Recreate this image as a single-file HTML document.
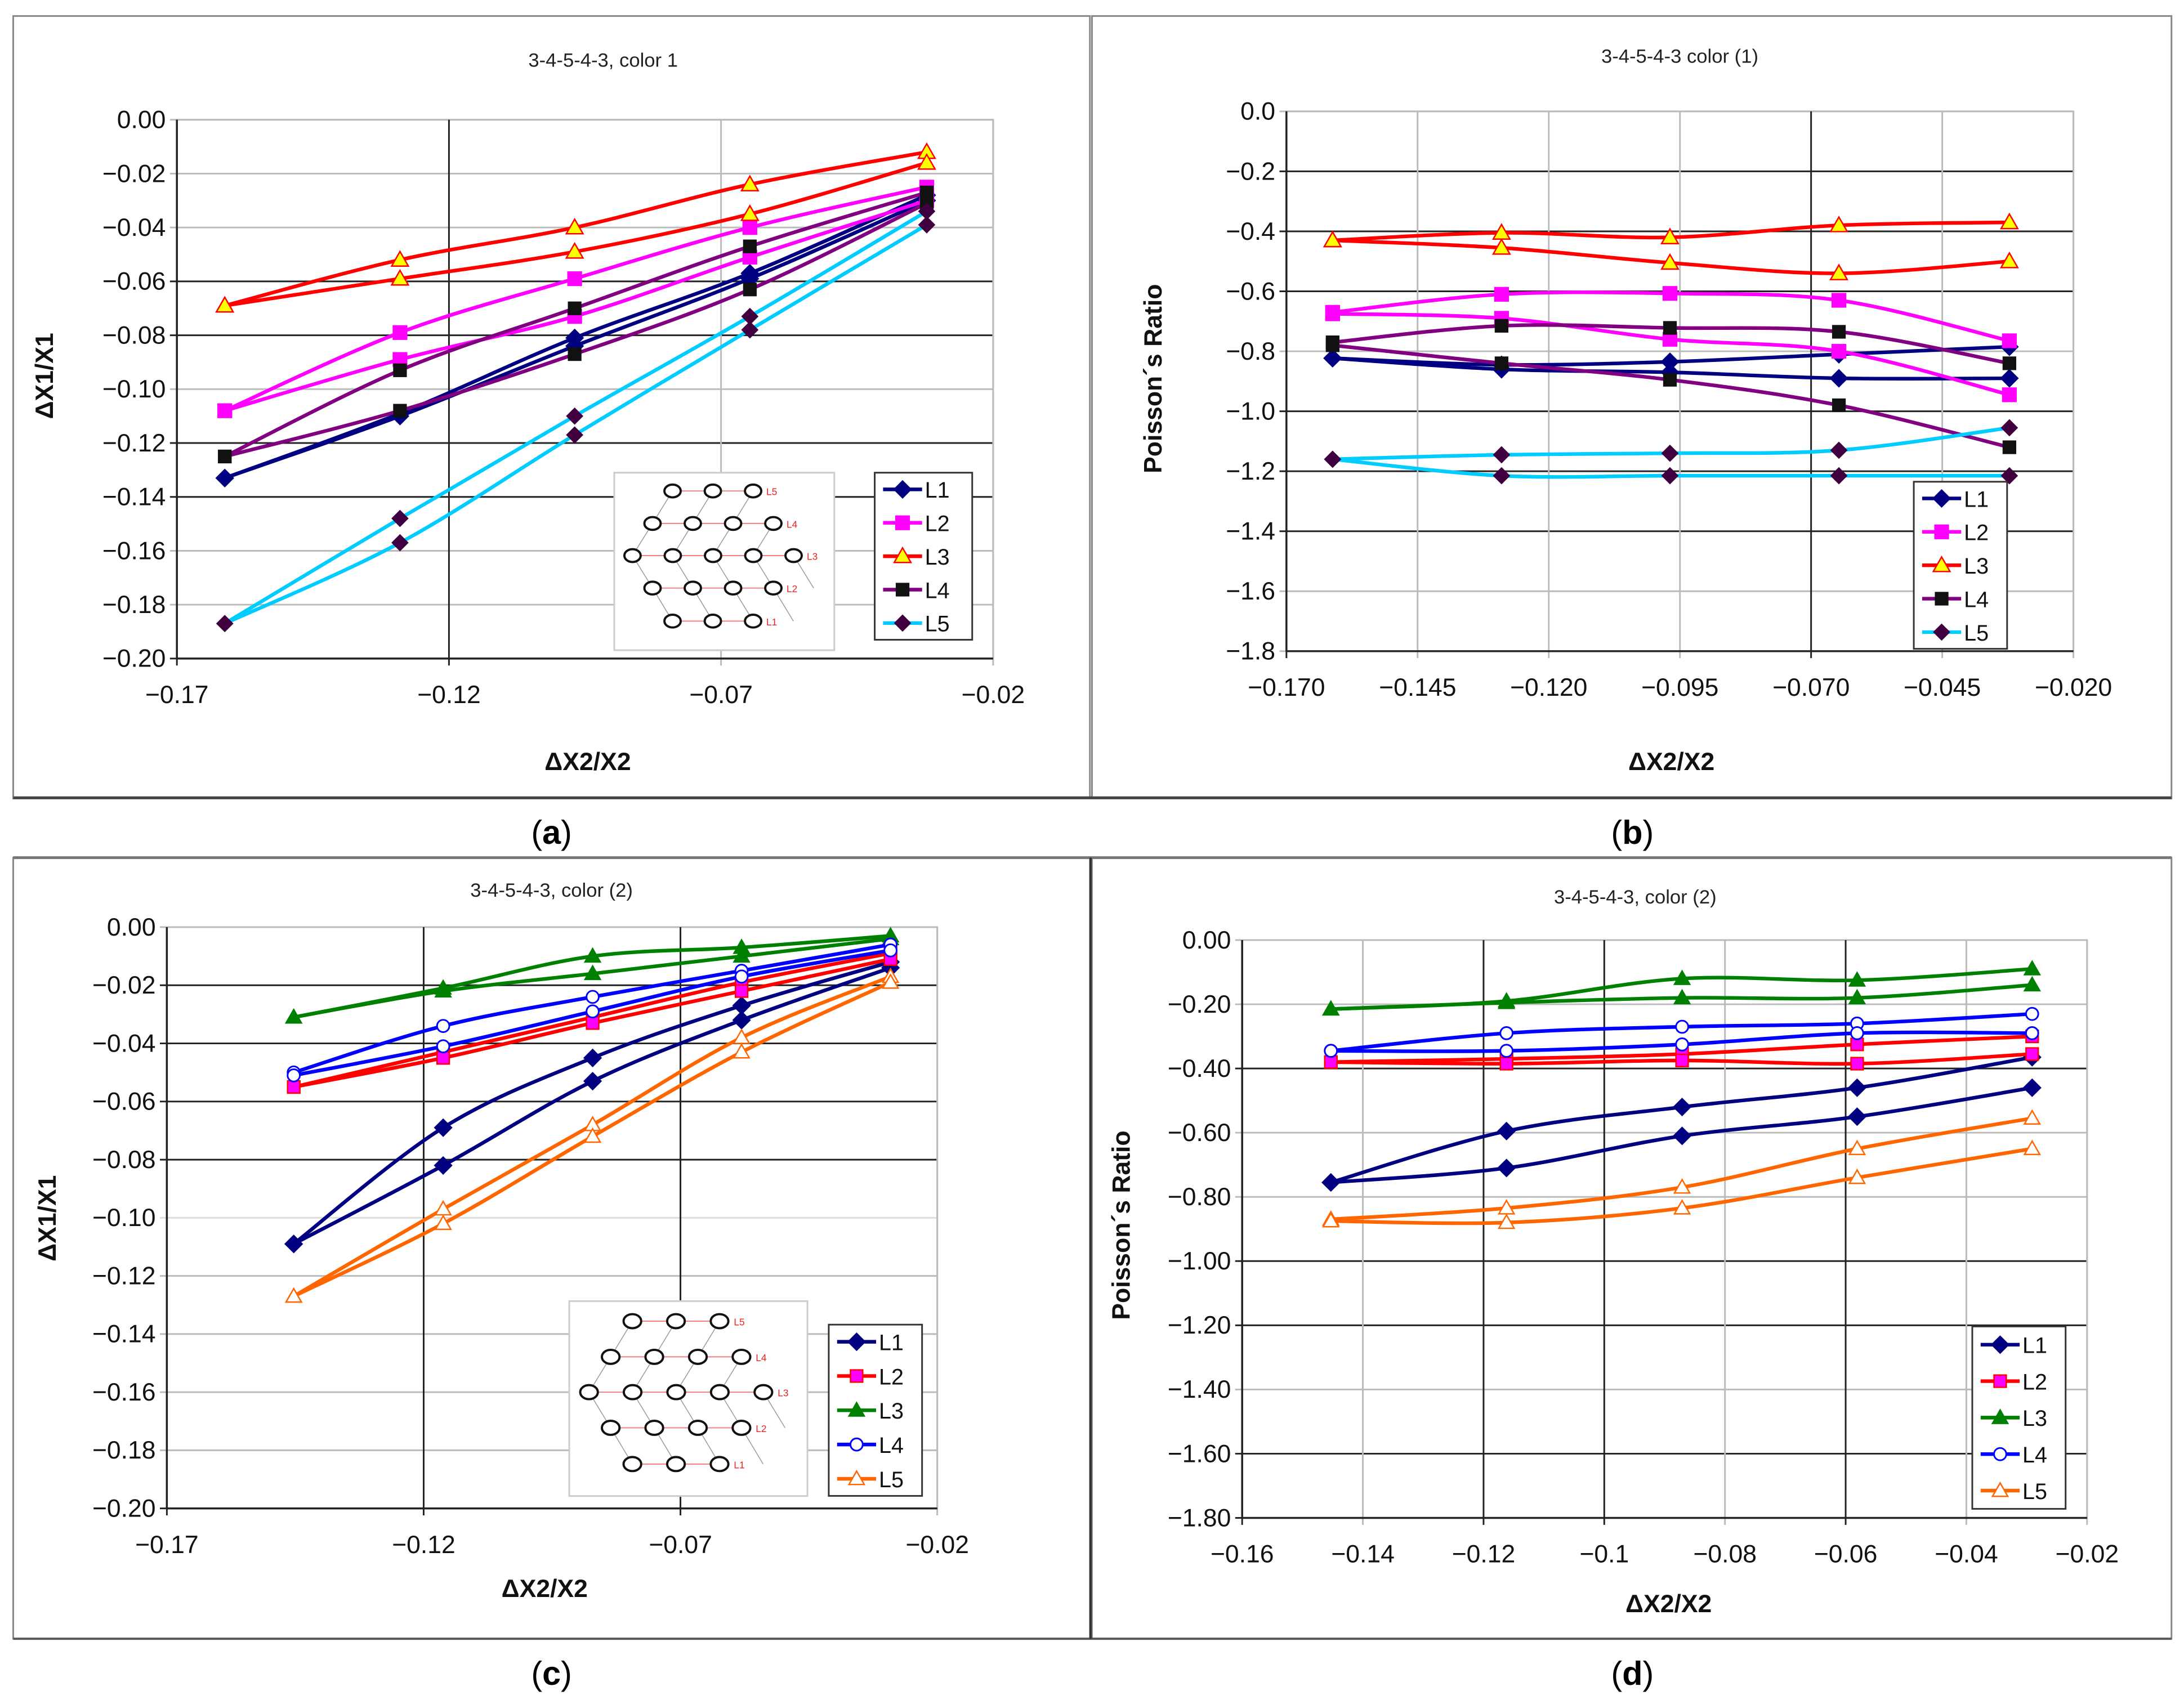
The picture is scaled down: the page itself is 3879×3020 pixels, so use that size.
<!DOCTYPE html>
<html><head><meta charset="utf-8"><style>
html,body{margin:0;padding:0;background:#fff;}
svg{display:block;}
text{font-family:"Liberation Sans",sans-serif;}
</style></head><body>
<svg id="fig" xmlns="http://www.w3.org/2000/svg" width="3879" height="3020" viewBox="0 0 1568 1221" preserveAspectRatio="none">
<rect x="0" y="0" width="1568" height="1221" fill="#fff"/>
<g id="frames">
<rect x="9.5" y="11.5" width="773" height="562" fill="none" stroke="#888" stroke-width="1.2"/>
<rect x="784" y="11.5" width="775" height="562" fill="none" stroke="#888" stroke-width="1.2"/>
<line x1="9.5" y1="573" x2="1559" y2="573" stroke="#444" stroke-width="2"/>
<rect x="9.5" y="616" width="773" height="561" fill="none" stroke="#888" stroke-width="1.2"/>
<rect x="784" y="616" width="775" height="561" fill="none" stroke="#888" stroke-width="1.2"/>
<line x1="9.5" y1="616" x2="1559" y2="616" stroke="#777" stroke-width="2"/>
<line x1="9.5" y1="1177" x2="1559" y2="1177" stroke="#555" stroke-width="1.6"/>
<line x1="783" y1="616" x2="783" y2="1177" stroke="#333" stroke-width="1.6"/>
</g>
<g font-family="Liberation Serif, serif" font-size="24" text-anchor="middle">
<text x="396" y="606">(<tspan font-weight="bold">a</tspan>)</text>
<text x="1172" y="606">(<tspan font-weight="bold">b</tspan>)</text>
<text x="396" y="1210">(<tspan font-weight="bold">c</tspan>)</text>
<text x="1172" y="1210">(<tspan font-weight="bold">d</tspan>)</text>
</g>
</svg>
<script>
// ---------- data: chart (a) ----------
const aX = [-0.1612, -0.129, -0.0969, -0.0647, -0.0322];
const aL1Up = [-0.133, -0.109, -0.081, -0.057, -0.028];
const aL1Dn = [-0.133, -0.110, -0.084, -0.059, -0.030];
const aL2Up = [-0.108, -0.079, -0.059, -0.040, -0.025];
const aL2Dn = [-0.108, -0.089, -0.073, -0.051, -0.030];
const aL3Up = [-0.069, -0.052, -0.040, -0.024, -0.012];
const aL3Dn = [-0.069, -0.059, -0.049, -0.035, -0.016];
const aL4Up = [-0.125, -0.093, -0.070, -0.047, -0.027];
const aL4Dn = [-0.125, -0.108, -0.087, -0.063, -0.031];
const aL5Up = [-0.187, -0.148, -0.110, -0.073, -0.034];
const aL5Dn = [-0.187, -0.157, -0.117, -0.078, -0.039];
const aYTicks = [0, -0.02, -0.04, -0.06, -0.08, -0.10, -0.12, -0.14, -0.16, -0.18, -0.20];
const aXTicks = [-0.17, -0.12, -0.07, -0.02];
// ---------- data: chart (b) ----------
const bX = [-0.1612, -0.129, -0.0969, -0.0647, -0.0322];
const bL1Up = [-0.823, -0.845, -0.835, -0.810, -0.785];
const bL1Dn = [-0.823, -0.860, -0.870, -0.890, -0.890];
const bL2Up = [-0.670, -0.610, -0.607, -0.630, -0.765];
const bL2Dn = [-0.675, -0.690, -0.760, -0.800, -0.945];
const bL3Up = [-0.430, -0.405, -0.420, -0.380, -0.370];
const bL3Dn = [-0.430, -0.455, -0.505, -0.540, -0.500];
const bL4Up = [-0.770, -0.715, -0.722, -0.735, -0.840];
const bL4Dn = [-0.780, -0.840, -0.895, -0.980, -1.120];
const bL5Up = [-1.160, -1.145, -1.140, -1.130, -1.055];
const bL5Dn = [-1.160, -1.215, -1.215, -1.215, -1.215];
const bYTicks = [0, -0.2, -0.4, -0.6, -0.8, -1.0, -1.2, -1.4, -1.6, -1.8];
const bXTicks = [-0.170, -0.145, -0.120, -0.095, -0.070, -0.045, -0.020];
// ---------- data: chart (c) ----------
const cX = [-0.1453, -0.1162, -0.0871, -0.0581, -0.0291];
const cL1Up = [-0.109, -0.069, -0.045, -0.027, -0.012];
const cL1Dn = [-0.109, -0.082, -0.053, -0.032, -0.014];
const cL2Up = [-0.055, -0.043, -0.031, -0.019, -0.009];
const cL2Dn = [-0.055, -0.045, -0.033, -0.022, -0.011];
const cL3Up = [-0.031, -0.021, -0.010, -0.007, -0.003];
const cL3Dn = [-0.031, -0.022, -0.016, -0.010, -0.004];
const cL4Up = [-0.050, -0.034, -0.024, -0.015, -0.006];
const cL4Dn = [-0.051, -0.041, -0.029, -0.017, -0.008];
const cL5Up = [-0.127, -0.097, -0.068, -0.038, -0.017];
const cL5Dn = [-0.127, -0.102, -0.072, -0.043, -0.019];
const cYTicks = [0, -0.02, -0.04, -0.06, -0.08, -0.10, -0.12, -0.14, -0.16, -0.18, -0.20];
const cXTicks = [-0.17, -0.12, -0.07, -0.02];
// ---------- data: chart (d) ----------
const dX = [-0.1453, -0.1162, -0.0871, -0.0581, -0.0291];
const dL1Up = [-0.755, -0.595, -0.520, -0.460, -0.365];
const dL1Dn = [-0.755, -0.710, -0.610, -0.550, -0.460];
const dL2Up = [-0.380, -0.370, -0.355, -0.325, -0.300];
const dL2Dn = [-0.380, -0.385, -0.375, -0.385, -0.355];
const dL3Up = [-0.215, -0.190, -0.120, -0.125, -0.090];
const dL3Dn = [-0.215, -0.195, -0.180, -0.180, -0.140];
const dL4Up = [-0.345, -0.290, -0.270, -0.260, -0.230];
const dL4Dn = [-0.345, -0.345, -0.325, -0.290, -0.290];
const dL5Up = [-0.870, -0.835, -0.770, -0.650, -0.555];
const dL5Dn = [-0.875, -0.880, -0.835, -0.740, -0.650];
const dYTicks = [0, -0.2, -0.4, -0.6, -0.8, -1.0, -1.2, -1.4, -1.6, -1.8];
const dXTicks = [-0.16, -0.14, -0.12, -0.10, -0.08, -0.06, -0.04, -0.02];
const dXLabels = ["\u22120.16","\u22120.14","\u22120.12","\u22120.1","\u22120.08","\u22120.06","\u22120.04","\u22120.02"];
const seriesNames = ["L1", "L2", "L3", "L4", "L5"];

const NS = "http://www.w3.org/2000/svg";
const fig = document.getElementById("fig");
function mk(tag, attrs, parent) {
  const e = document.createElementNS(NS, tag);
  for (const k in attrs) e.setAttribute(k, attrs[k]);
  (parent || fig).appendChild(e);
  return e;
}
function fmt(v, d) { const s = Math.abs(v).toFixed(d); return (v < 0 ? "\u2212" : "") + s; }
function smooth(pts) {
  let d = "M" + pts[0][0] + "," + pts[0][1];
  for (let i = 0; i < pts.length - 1; i++) {
    const p0 = pts[i - 1] || pts[i], p1 = pts[i], p2 = pts[i + 1], p3 = pts[i + 2] || p2;
    const c1 = [p1[0] + (p2[0] - p0[0]) / 6, p1[1] + (p2[1] - p0[1]) / 6];
    const c2 = [p2[0] - (p3[0] - p1[0]) / 6, p2[1] - (p3[1] - p1[1]) / 6];
    d += " C" + c1 + " " + c2 + " " + p2;
  }
  return d;
}
function marker(g, type, x, y, s) {
  let e;
  if (type === "diamond") e = mk("polygon", {points: `${x},${y-s.r} ${x+s.r},${y} ${x},${y+s.r} ${x-s.r},${y}`, fill: s.fill, stroke: s.ms, "stroke-width": 1}, g);
  else if (type === "square") e = mk("rect", {x: x - s.r*0.8, y: y - s.r*0.8, width: s.r*1.6, height: s.r*1.6, fill: s.fill, stroke: s.ms, "stroke-width": 1}, g);
  else if (type === "triangle") e = mk("polygon", {points: `${x},${y-s.r} ${x+s.r},${y+s.r*0.75} ${x-s.r},${y+s.r*0.75}`, fill: s.fill, stroke: s.ms, "stroke-width": 1}, g);
  else e = mk("circle", {cx: x, cy: y, r: s.r*0.8, fill: s.fill, stroke: s.ms, "stroke-width": 1.2}, g);
  
  
}
function chart(c) {
  const g = mk("g", {});
  
  
  const sx = v => c.L + (v - c.xmin) / (c.xmax - c.xmin) * (c.R - c.L);
  const sy = v => c.T + (c.ymax - v) / (c.ymax - c.ymin) * (c.B - c.T);
  // plot border
  mk("rect", {x: c.L, y: c.T, width: c.R - c.L, height: c.B - c.T, fill: "none", stroke: "#bbb", "stroke-width": 1.2}, g);
  c.yTicks.forEach((v, i) => {
    const y = sy(v);
    const gl = mk("line", {x1: c.L - 5, x2: c.R, y1: y, y2: y, stroke: c.hCol[i], "stroke-width": 1.2}, g);
    
    
    const t = mk("text", {x: c.L - 8, y: y + 6, "text-anchor": "end", "font-size": c.fs, fill: "#111"}, g);
    t.textContent = fmt(v, c.yDec);
    
    
  });
  c.xTicks.forEach((v, i) => {
    const x = sx(v);
    const gl = mk("line", {x1: x, x2: x, y1: c.T, y2: c.B + 5, stroke: c.vCol[i], "stroke-width": 1.2}, g);
    
    
    const t = mk("text", {x: x, y: c.B + 32, "text-anchor": "middle", "font-size": c.fs, fill: "#111"}, g);
    t.textContent = c.xLabels ? c.xLabels[i] : fmt(v, c.xDec);
    
    
  });
  mk("line", {x1: c.L, x2: c.L, y1: c.T, y2: c.B, stroke: "#222", "stroke-width": 1.4}, g);
  mk("line", {x1: c.L, x2: c.R, y1: c.B, y2: c.B, stroke: "#222", "stroke-width": 1.4}, g);
  // series
  c.series.forEach((s, k) => {
    const sg = mk("g", {}, g);
    
    
    [s.up, s.dn].forEach(arr => {
      const pts = c.x.map((xv, i) => [sx(xv), sy(arr[i])]);
      const p = mk("path", {d: smooth(pts), fill: "none", stroke: s.color, "stroke-width": 2.6}, sg);
      
      
    });
    [s.up, s.dn].forEach(arr => c.x.forEach((xv, i) => marker(sg, s.m, sx(xv), sy(arr[i]), s)));
  });
  // inset
  if (c.inset) {
    const [ix, iy, iw, ih] = c.inset;
    const ig = mk("g", {}, g);
    
    
    mk("rect", {x: ix, y: iy, width: iw, height: ih, fill: "#fff", stroke: "#ccc", "stroke-width": 1.2}, ig);
    const rows = [[0.265,3],[0.174,4],[0.083,5],[0.174,4],[0.265,3]];
    const ry = [0.103,0.286,0.467,0.65,0.836];
    const lab = ["L5","L4","L3","L2","L1"];
    rows.forEach((r, j) => {
      const y = iy + ry[j]*ih;
      mk("line", {x1: ix + r[0]*iw, x2: ix + (r[0] + 0.183*(r[1]-1))*iw, y1: y, y2: y, stroke: "#f08080", "stroke-width": 0.8}, ig);
      for (let q = 0; q < r[1]; q++) {
        const cx = ix + (r[0] + 0.183*q)*iw;
        if (j < 4) {
          const nr = rows[j+1];
          const dx = j < 2 ? -0.091 : 0.091;
          mk("line", {x1: cx, y1: y, x2: cx + dx*iw, y2: iy + ry[j+1]*ih, stroke: "#999", "stroke-width": 0.6}, ig);
        }
        mk("ellipse", {cx: cx, cy: y, rx: 0.037*iw, ry: 0.036*ih, fill: "#fff", stroke: "#111", "stroke-width": 1.6}, ig);
      }
      const t = mk("text", {x: ix + (r[0] + 0.183*(r[1]-1) + 0.06)*iw, y: y + 3, "font-size": 7, fill: "#e22"}, ig);
      t.textContent = lab[j];
      
      
    });
  }
  // legend
  const [lx, ly, lw, lh] = c.legend;
  const lg = mk("g", {}, g);
  
  
  mk("rect", {x: lx, y: ly, width: lw, height: lh, fill: "#fff", stroke: "#333", "stroke-width": 1.2}, lg);
  c.series.forEach((s, k) => {
    const y = ly + lh * (0.1 + 0.2 * k);
    const eg = mk("g", {}, lg);
    
    
    mk("line", {x1: lx + 6, x2: lx + 34, y1: y, y2: y, stroke: s.color, "stroke-width": 2.6}, eg);
    marker(eg, s.m, lx + 20, y, s);
    const t = mk("text", {x: lx + 36, y: y + 6, "font-size": 16, fill: "#111"}, eg);
    t.textContent = seriesNames[k];
    
    
  });
  // titles
  const tt = mk("text", {x: c.title[1], y: c.title[2], "text-anchor": "middle", "font-size": 14, fill: "#222"}, g);
  tt.textContent = c.title[0];
  
  
  const xt = mk("text", {x: c.xt[0], y: c.xt[1], "text-anchor": "middle", "font-size": 18, "font-weight": "bold", fill: "#111"}, g);
  xt.textContent = "\u0394X2/X2";
  
  
  const yt = mk("text", {x: 0, y: 0, transform: `translate(${c.yt[0]},${c.yt[1]}) rotate(-90)`, "text-anchor": "middle", "font-size": 18, "font-weight": "bold", fill: "#111"}, g);
  yt.textContent = c.ytText;
  
  
}
const K = "#222", G = "#bbb", LG = "#ddd";
const s1 = (a) => [
  {color: "#000080", m: "diamond", fill: "#000080", ms: "#000080", r: 6, up: a[0], dn: a[1]},
  {color: "#FF00FF", m: "square", fill: "#FF00FF", ms: "#FF00FF", r: 6, up: a[2], dn: a[3]},
  {color: "#FF0000", m: "triangle", fill: "#FFFF00", ms: "#FF0000", r: 6, up: a[4], dn: a[5]},
  {color: "#800080", m: "square", fill: "#111", ms: "#111", r: 5.5, up: a[6], dn: a[7]},
  {color: "#00CCFF", m: "diamond", fill: "#400040", ms: "#400040", r: 5.5, up: a[8], dn: a[9]}];
const s2 = (a) => [
  {color: "#000080", m: "diamond", fill: "#000080", ms: "#000080", r: 6, up: a[0], dn: a[1]},
  {color: "#FF0000", m: "square", fill: "#FF00FF", ms: "#FF0000", r: 5.5, up: a[2], dn: a[3]},
  {color: "#008000", m: "triangle", fill: "#008000", ms: "#008000", r: 5.5, up: a[4], dn: a[5]},
  {color: "#0000FF", m: "circle", fill: "#fff", ms: "#0000FF", r: 5.5, up: a[6], dn: a[7]},
  {color: "#FF6600", m: "triangle", fill: "#fff", ms: "#FF6600", r: 5.5, up: a[8], dn: a[9]}];
chart({name: "chart-a", L: 127, R: 713, T: 86, B: 473, xmin: -0.17, xmax: -0.02, ymin: -0.2, ymax: 0,
  x: aX, yTicks: aYTicks, xTicks: aXTicks, yDec: 2, xDec: 2, fs: 18,
  hCol: [G, G, G, K, K, G, K, K, G, G, K], vCol: [K, K, G, G],
  series: s1([aL1Up, aL1Dn, aL2Up, aL2Dn, aL3Up, aL3Dn, aL4Up, aL4Dn, aL5Up, aL5Dn]),
  inset: [441, 339.5, 158, 127.5], legend: [628, 339.5, 70, 120],
  title: ["3-4-5-4-3, color 1", 433, 48], xt: [422, 553], yt: [38, 270], ytText: "\u0394X1/X1"});
chart({name: "chart-b", L: 923.6, R: 1488.6, T: 80, B: 467.7, xmin: -0.17, xmax: -0.02, ymin: -1.8, ymax: 0,
  x: bX, yTicks: bYTicks, xTicks: bXTicks, yDec: 1, xDec: 3, fs: 18,
  hCol: [G, K, K, K, G, K, K, K, G, G], vCol: [K, G, G, G, K, G, G],
  series: s1([bL1Up, bL1Dn, bL2Up, bL2Dn, bL3Up, bL3Dn, bL4Up, bL4Dn, bL5Up, bL5Dn]),
  legend: [1374, 346, 67, 120],
  title: ["3-4-5-4-3 color (1)", 1206, 45], xt: [1200, 553], yt: [834, 272], ytText: "Poisson\u00B4s Ratio"});
chart({name: "chart-c", L: 119.8, R: 672.9, T: 665.9, B: 1083.4, xmin: -0.17, xmax: -0.02, ymin: -0.2, ymax: 0,
  x: cX, yTicks: cYTicks, xTicks: cXTicks, yDec: 2, xDec: 2, fs: 18,
  hCol: [G, K, K, K, K, LG, G, G, G, G, K], vCol: [K, K, K, G],
  series: s2([cL1Up, cL1Dn, cL2Up, cL2Dn, cL3Up, cL3Dn, cL4Up, cL4Dn, cL5Up, cL5Dn]),
  inset: [408.7, 934.5, 171, 140], legend: [595, 951.4, 67, 123],
  title: ["3-4-5-4-3, color (2)", 396, 644], xt: [391, 1147], yt: [40, 875], ytText: "\u0394X1/X1"});
chart({name: "chart-d", L: 891.8, R: 1498.4, T: 675.2, B: 1090.2, xmin: -0.16, xmax: -0.02, ymin: -1.8, ymax: 0,
  x: dX, yTicks: dYTicks, xTicks: dXTicks, xLabels: dXLabels, yDec: 2, xDec: 2, fs: 18,
  hCol: [G, G, K, G, G, K, K, G, K, K], vCol: [K, G, K, K, G, K, G, G],
  series: s2([dL1Up, dL1Dn, dL2Up, dL2Dn, dL3Up, dL3Dn, dL4Up, dL4Dn, dL5Up, dL5Dn]),
  legend: [1416, 952.7, 67, 131],
  title: ["3-4-5-4-3, color (2)", 1174, 649], xt: [1198, 1158], yt: [811, 880], ytText: "Poisson\u00B4s Ratio"});
</script>
</body></html>
